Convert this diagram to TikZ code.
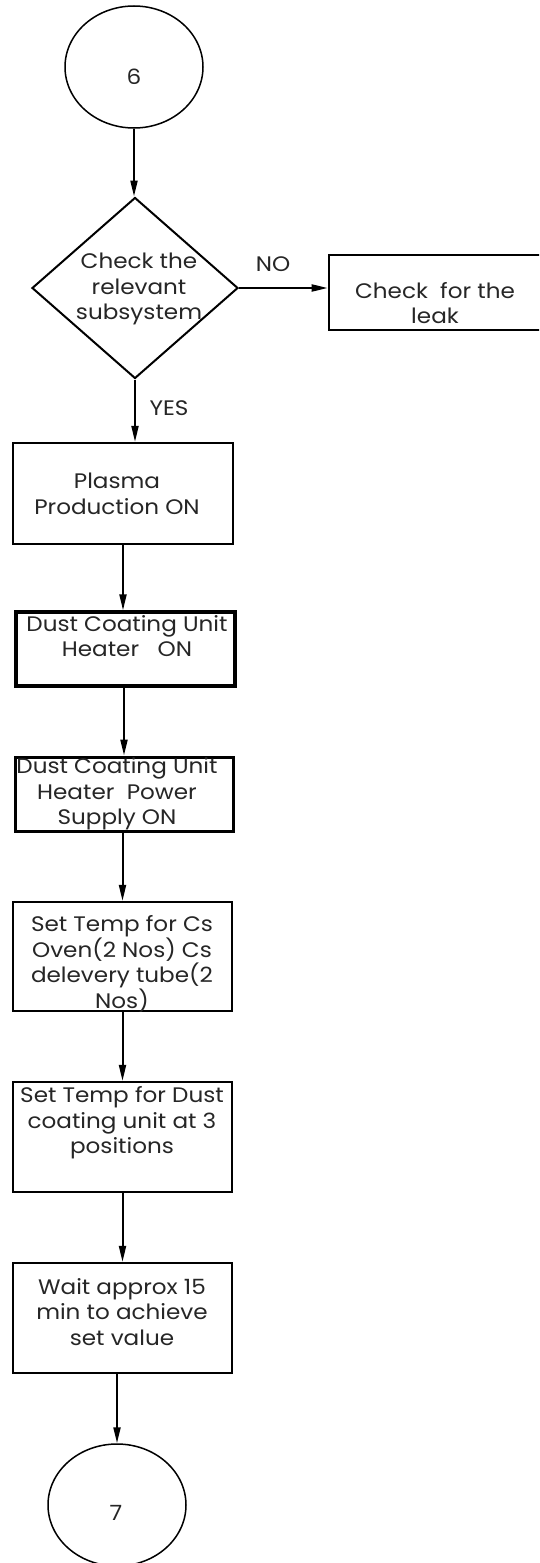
\documentclass[tikz,border=0pt]{standalone}
\usepackage{fontspec}
\setmainfont{Poppins}[FakeStretch=1.1]
\usetikzlibrary{shapes.geometric,arrows.meta,calc}
\begin{document}
\begin{tikzpicture}[x=1pt,y=-1pt,
  flow/.style={draw=black, line width=2pt, -{Triangle[length=16pt,width=7pt]}},
  stepbox/.style={draw=black, line width=2.2pt, rectangle, inner sep=0pt},
  conn/.style={draw=black, line width=1.5pt, ellipse, minimum width=138pt, minimum height=122pt, inner sep=0pt},
  decision/.style={draw=black, line width=2pt, diamond, minimum width=206pt, minimum height=181pt, inner sep=0pt},
  txt/.style={font=\fontsize{21}{25.5}\selectfont, align=center, inner sep=0pt, text=black!85},
  ]
\clip (0,0) rectangle (539,1563);
\useasboundingbox (0,0) rectangle (539,1563);
\fill[white] (0,0) rectangle (539,1563);

% shapes
\node[conn] (c6) at (134,67) {};
\node[decision] (dec) at (135,288) {};
\node[stepbox, line width=2.6pt, minimum width=216pt, minimum height=75pt] (leak) at (437,292.5) {};
\node[stepbox, minimum width=220pt, minimum height=101pt] (b1) at (123,493.5) {};
\node[stepbox, line width=3.4pt, minimum width=219pt, minimum height=74pt] (b2) at (125.5,649) {};
\node[stepbox, line width=3pt, minimum width=218pt, minimum height=74pt] (b3) at (124,794) {};
\node[stepbox, minimum width=219pt, minimum height=109pt] (b4) at (122.5,956.5) {};
\node[stepbox, minimum width=219pt, minimum height=110pt] (b5) at (122.5,1137) {};
\node[stepbox, minimum width=219pt, minimum height=110pt] (b6) at (122.5,1318) {};
\node[conn] (c7) at (117,1505) {};

% texts
\node[txt] (t6) at (134,77) {6};
\node[txt] (tdec) at (139,289) {Check the\\relevant\\subsystem};
\node[txt] (tleak) at (435,303) {Check\ \ for the\\leak};
\node[txt] (tno) at (273,264) {NO};
\node[txt] (tyes) at (169,408) {YES};
\node[txt] (t1) at (117,494) {Plasma\\Production ON};
\node[txt] (t2) at (127,636) {Dust Coating Unit\\Heater\ \ \ ON};
\node[txt] (t3) at (117,794) {Dust Coating Unit\\Heater\ \ Power\\Supply ON};
\node[txt] (t4) at (122,964) {Set Temp for Cs\\Oven(2 Nos) Cs\\delevery tube(2\\Nos)};
\node[txt] (t5) at (122,1123) {Set Temp for Dust\\coating unit at 3\\positions};
\node[txt] (t6b) at (122,1312) {Wait approx 15\\min to achieve\\set value};
\node[txt] (t7) at (116,1513) {7};

% connectors
\draw[flow] (c6.south) -- (c6.south |- dec.north);
\draw[flow] (dec.east) -- (dec.east -| leak.west);
\draw[flow] (dec.south) -- (dec.south |- b1.north);
\draw[flow] (b1.south) -- (b1.south |- b2.north);
\draw[flow] (b3.north |- b2.south) -- (b3.north);
\draw[flow] (b4.north |- b3.south) -- (b4.north);
\draw[flow] (b4.south) -- (b5.north);
\draw[flow] (b5.south) -- (b6.north);
\draw[flow] (c7.north |- b6.south) -- (c7.north);
\end{tikzpicture}
\end{document}
